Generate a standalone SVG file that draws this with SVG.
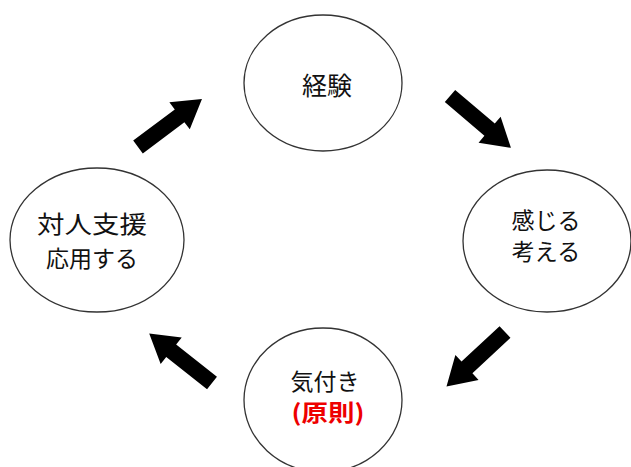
<svg xmlns="http://www.w3.org/2000/svg" width="631" height="467" viewBox="0 0 631 467">
<style>
.node ellipse{fill:#fff;stroke:#333;stroke-width:1.3}
.t{font-family:"Noto Sans CJK JP","Noto Sans CJK SC",sans-serif;font-size:23px;fill:#111;text-anchor:middle;dominant-baseline:central}
.red{fill:#e00;font-weight:bold}
</style>
<defs>
<path id="arr" d="M0,-8 H52 V-17 L80,0 L52,17 V8 H0 Z" fill="#000"/>
</defs>
<rect width="631" height="467" fill="#fff"/>
<g id="connectors">
<use href="#arr" transform="translate(138,147) rotate(-36.9)"/>
<use href="#arr" transform="translate(450,96) rotate(40.4)"/>
<use href="#arr" transform="translate(505,332) rotate(137)"/>
<use href="#arr" transform="translate(212,383) rotate(218.3)"/>
</g>
<g id="keiken" class="node">
<ellipse cx="323" cy="83" rx="79" ry="68"/>
<text class="t" x="327" y="84" style="font-size:25px">経験</text>
</g>
<g id="kanjiru" class="node">
<ellipse cx="547" cy="241" rx="84" ry="71"/>
<text class="t" x="546" y="219">感じる</text>
<text class="t" x="546" y="250">考える</text>
</g>
<g id="kizuki" class="node">
<ellipse cx="323" cy="400" rx="79" ry="72"/>
<text class="t" x="325" y="380">気付き</text>
<text class="t red" x="328" y="411" textLength="73" lengthAdjust="spacingAndGlyphs">(原則)</text>
</g>
<g id="taijin" class="node">
<ellipse cx="97" cy="240" rx="87" ry="72"/>
<text class="t" x="92" y="222" style="font-size:24px" textLength="110" lengthAdjust="spacingAndGlyphs">対人支援</text>
<text class="t" x="92" y="257">応用する</text>
</g>
</svg>
